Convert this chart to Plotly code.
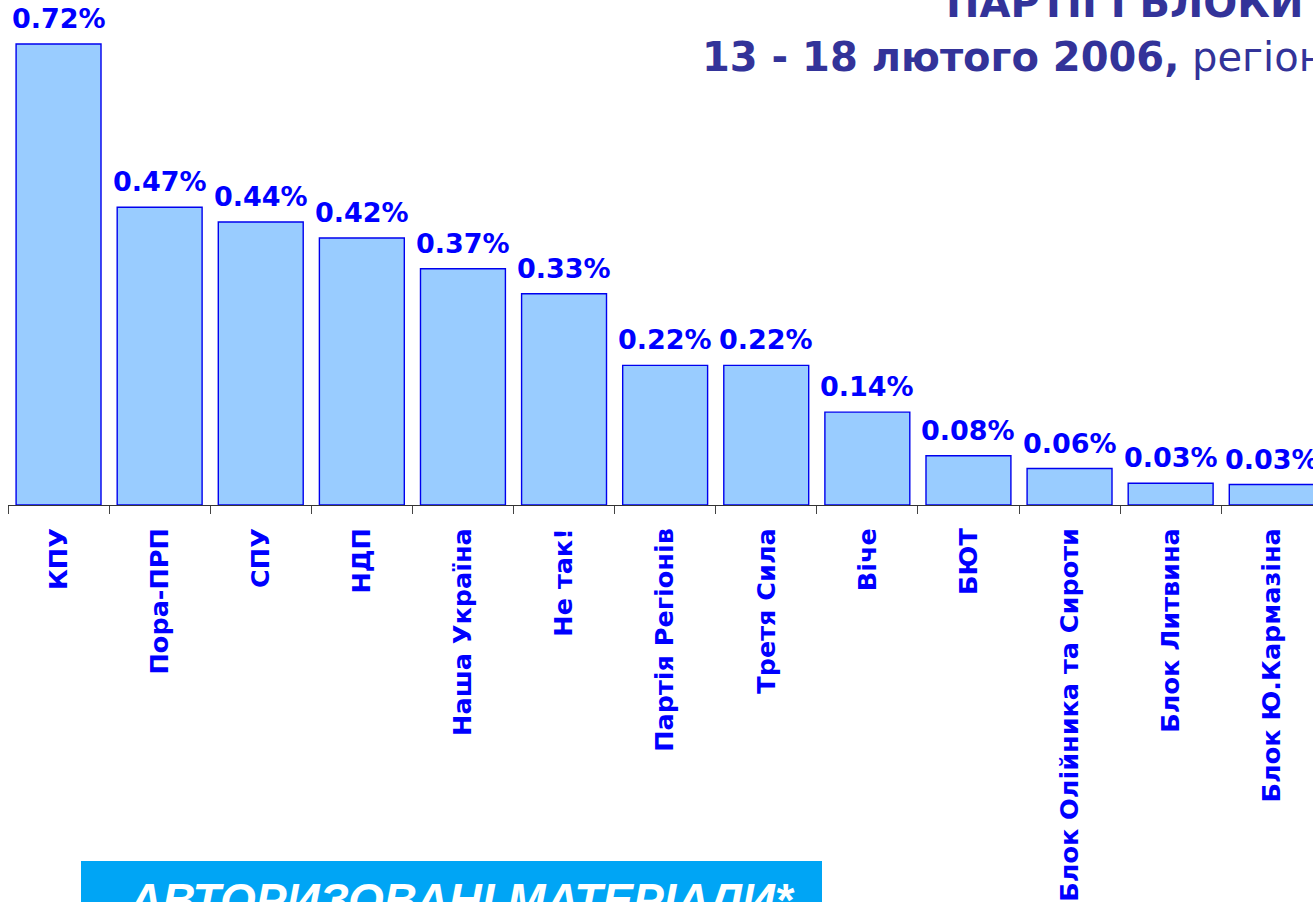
import plotly.graph_objects as go

categories = ["КПУ", "Пора-ПРП", "СПУ", "НДП", "Наша Україна", "Не так!",
              "Партія Регіонів", "Третя Сила", "Віче", "БЮТ",
              "Блок Олійника та Сироти", "Блок Литвина", "Блок Ю.Кармазіна"]
values = [0.720, 0.465, 0.442, 0.417, 0.369, 0.330, 0.218, 0.218, 0.145, 0.077, 0.057, 0.034, 0.032]
labels = ["0.72%", "0.47%", "0.44%", "0.42%", "0.37%", "0.33%", "0.22%", "0.22%",
          "0.14%", "0.08%", "0.06%", "0.03%", "0.03%"]

W, H = 1313, 902
L, R, T, B = 8, 0, 0, 397
pw, ph = W - L - R, H - T - B


def px(x):
    return (x - L) / pw


def py(y):
    return (H - B - y) / ph


fig = go.Figure()
fig.add_trace(go.Bar(
    x=categories, y=values,
    marker=dict(color="#99CCFF", line=dict(color="#0000EE", width=1.4)),
    cliponaxis=False, hoverinfo="skip",
))

for c, v, t in zip(categories, values, labels):
    fig.add_annotation(x=c, y=v, xref="x", yref="y", text=t, showarrow=False,
                       xanchor="center", yanchor="bottom", yshift=8,
                       font=dict(family="DejaVu Sans", size=27, color="#0000FF", weight="bold"))

fig.update_layout(
    width=W, height=H,
    margin=dict(l=L, r=R, t=T, b=B, pad=0),
    plot_bgcolor="white", paper_bgcolor="white",
    bargap=0.16, showlegend=False,
    xaxis=dict(
        range=[-0.5, 12.408], showgrid=False, showline=True, linecolor="#333333", linewidth=1,
        ticks="outside", tickson="boundaries", ticklen=8, tickcolor="#444444",
        tickangle=-90, ticklabelstandoff=12,
        tickfont=dict(family="DejaVu Sans", size=25.5, color="#0000FF", weight="bold"),
    ),
    yaxis=dict(range=[0, (H - B) / 640.3], visible=False, showgrid=False),
)

fig.add_shape(type="rect", xref="paper", yref="paper",
              x0=px(81), x1=px(822), y0=py(940), y1=py(861),
              fillcolor="#00A5F5", line=dict(width=0), layer="above")

fig.add_annotation(xref="paper", yref="paper", x=px(126), y=py(872), xanchor="left", yanchor="top",
                   text="АВТОРИЗОВАНІ МАТЕРІАЛИ*", showarrow=False,
                   font=dict(family="Liberation Sans", size=46, color="white", weight="bold", style="italic"))

fig.add_annotation(xref="paper", yref="paper", x=px(944), y=py(28), xanchor="left", yanchor="bottom",
                   text="<b>ПАРТІЇ І БЛОКИ</b>", showarrow=False,
                   font=dict(family="DejaVu Sans", size=40, color="#333399"))
fig.add_annotation(xref="paper", yref="paper", x=px(700), y=py(57), xanchor="left", yanchor="middle",
                   text="<b>13 - 18 лютого 2006,</b> регіони", showarrow=False,
                   font=dict(family="DejaVu Sans", size=40, color="#333399"))

fig.write_html(
    "out.html",
    config={"displayModeBar": False},
    post_script="document.body.style.margin='0';document.body.style.overflow='hidden';",
)
